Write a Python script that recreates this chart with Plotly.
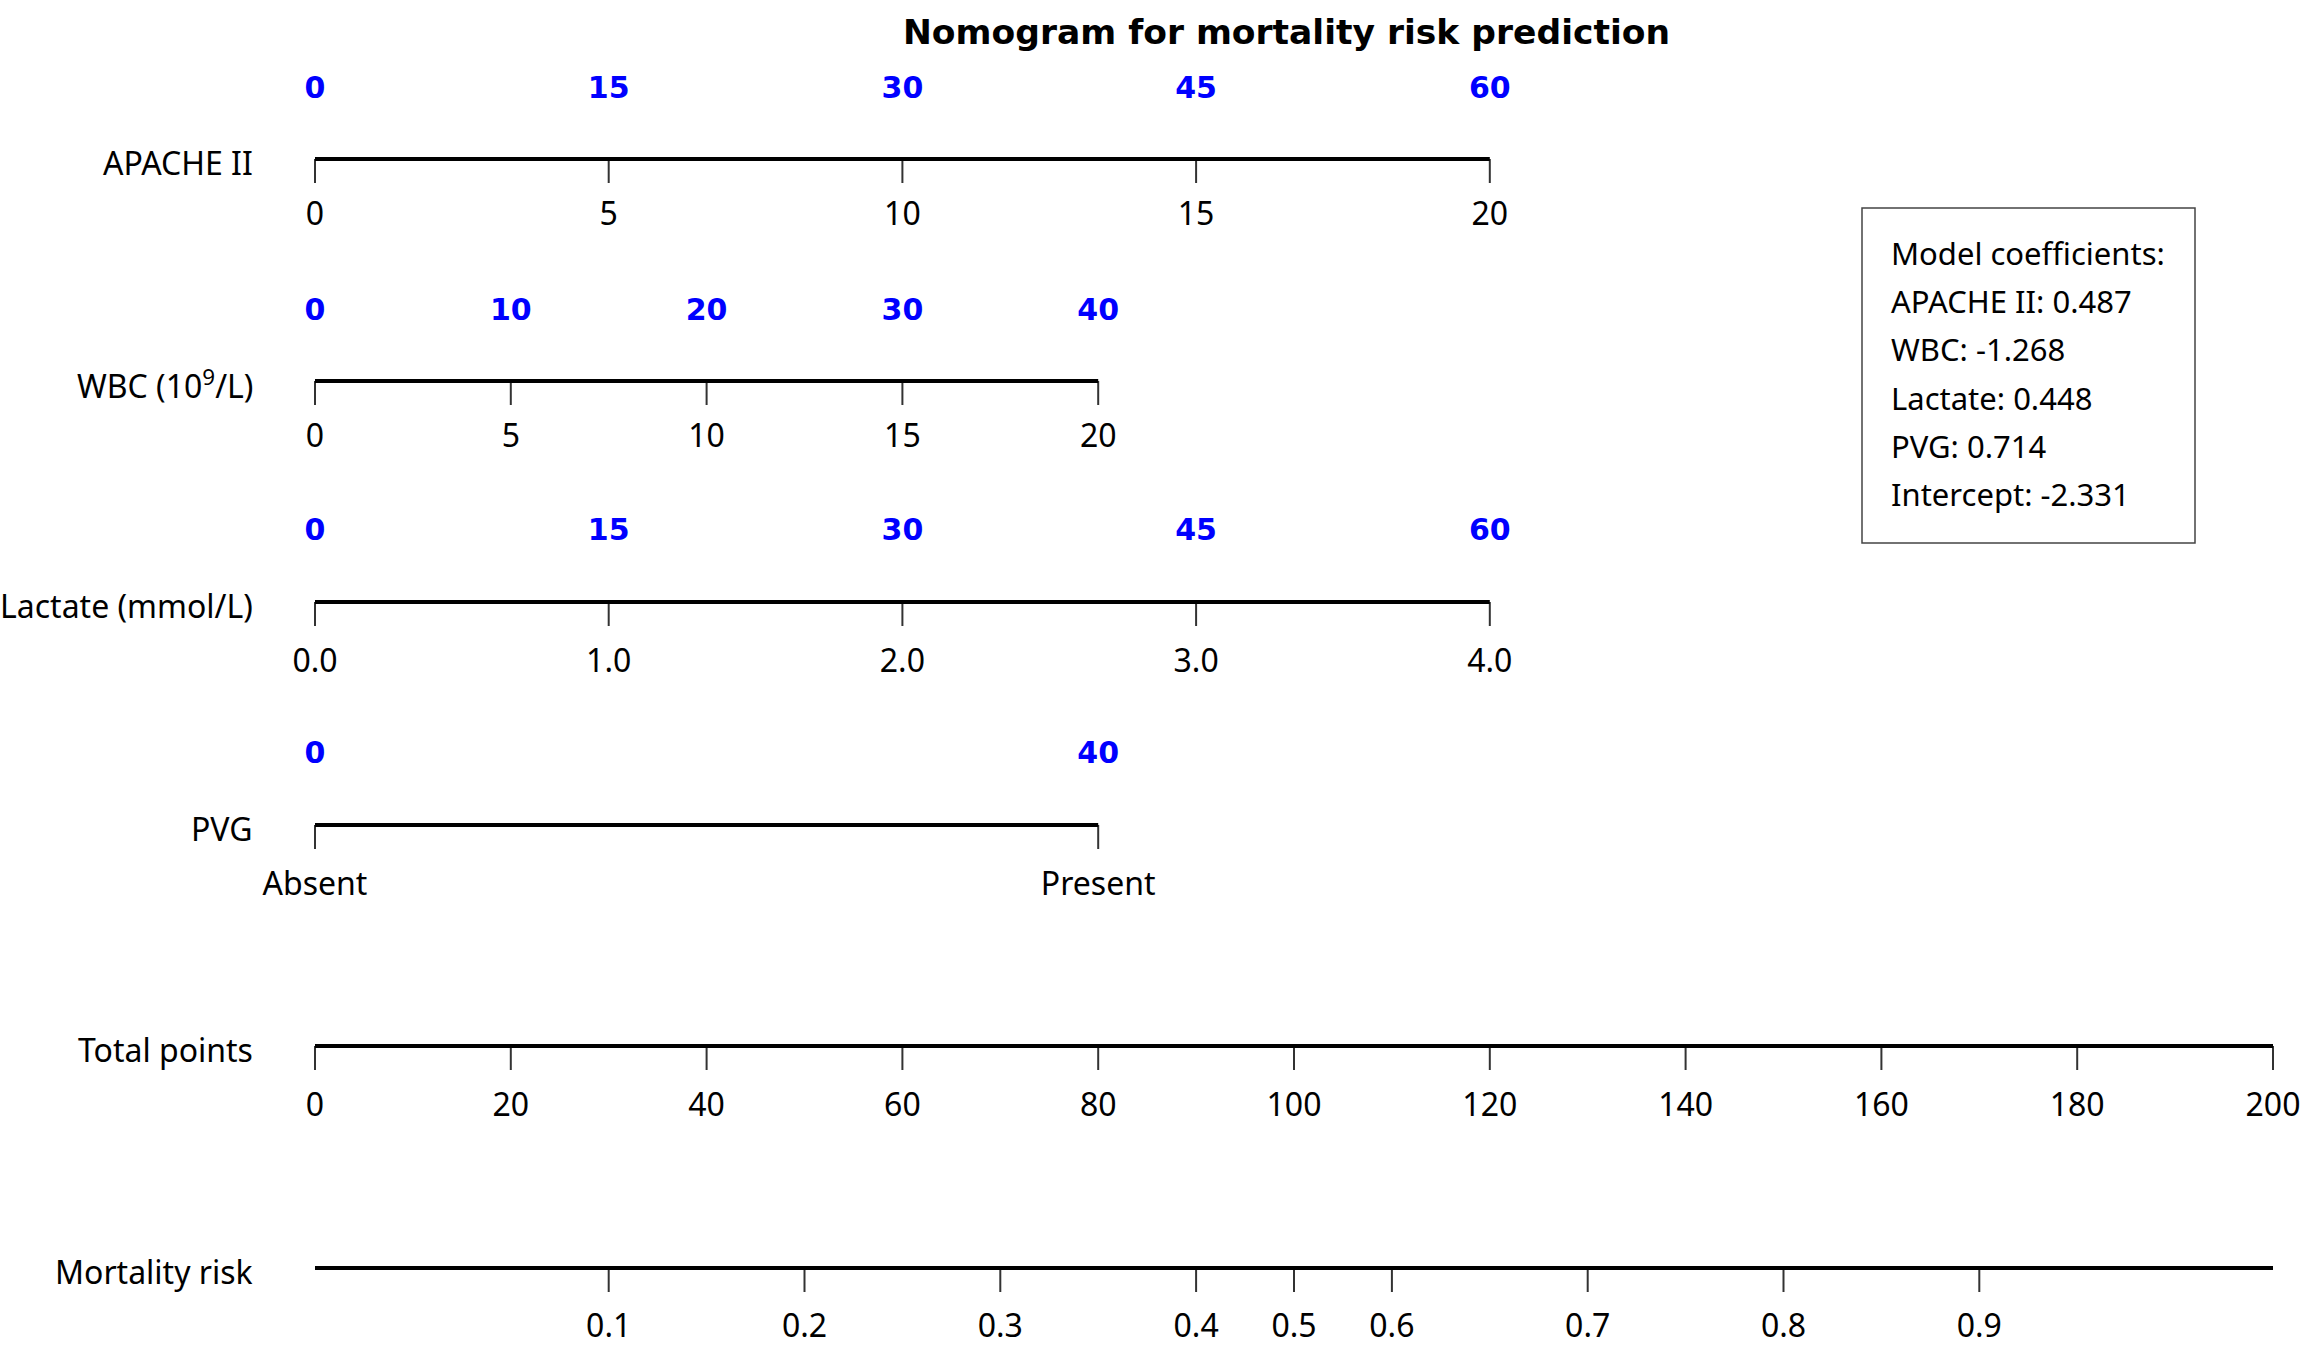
import plotly.graph_objects as go

# ---------------- data ----------------
apache_values = ["0", "5", "10", "15", "20"]
apache_points = [0, 15, 30, 45, 60]

wbc_values = ["0", "5", "10", "15", "20"]
wbc_points = [0, 10, 20, 30, 40]

lactate_values = ["0.0", "1.0", "2.0", "3.0", "4.0"]
lactate_points = [0, 15, 30, 45, 60]

pvg_values = ["Absent", "Present"]
pvg_points = [0, 40]

total_ticks = [0, 20, 40, 60, 80, 100, 120, 140, 160, 180, 200]

risk_labels = ["0.1", "0.2", "0.3", "0.4", "0.5", "0.6", "0.7", "0.8", "0.9"]
risk_total_points = [30, 50, 70, 90, 100, 110, 130, 150, 170]

coef_names = ["APACHE II", "WBC", "Lactate", "PVG", "Intercept"]
coef_values = ["0.487", "-1.268", "0.448", "0.714", "-2.331"]

row_labels = ["APACHE II", "WBC (10<sup>9</sup>/L)", "Lactate (mmol/L)", "PVG",
              "Total points", "Mortality risk"]

# ---------------- layout constants ----------------
W, H = 2302, 1356
X0_PX, X200_PX = 315, 2273          # pixel positions of total points 0 and 200
K = (X200_PX - X0_PX) / 200.0
POINT_SCALE = 2                     # variable points drawn at 2x on the total-points scale
row_y = [159, 381, 602, 825, 1046, 1268]
label_off = [58, 58, 62, 62, 62, 61]
blue_off = [-69, -69, -70, -70]
TICK_LEN = 24

BLUE = "#0000FF"
SANS = "Noto Sans"
BOLD = "DejaVu Sans"


def px(screen_x):
    return screen_x / W


fig = go.Figure()


def add_axis(y, positions, labels, loff, line_end=None):
    end = max(positions) if line_end is None else line_end
    tx, ty = [], []
    for p in positions:
        tx += [p, p, None]
        ty += [y, y + TICK_LEN, None]
    fig.add_trace(go.Scatter(x=tx, y=ty, mode="lines",
                             line=dict(color="#333333", width=2),
                             hoverinfo="skip", showlegend=False))
    fig.add_trace(go.Scatter(x=[0, end], y=[y, y], mode="lines",
                             line=dict(color="black", width=4),
                             hoverinfo="skip", showlegend=False))
    fig.add_trace(go.Scatter(x=positions, y=[y + loff] * len(positions),
                             mode="text", text=labels, textposition="middle center",
                             textfont=dict(family=SANS, size=32, color="black"),
                             hoverinfo="skip", showlegend=False))


def add_points(y, pts, boff):
    fig.add_trace(go.Scatter(x=[p * POINT_SCALE for p in pts], y=[y + boff] * len(pts),
                             mode="text", text=[str(p) for p in pts],
                             textposition="middle center",
                             textfont=dict(family=BOLD, size=30, color=BLUE, weight="bold"),
                             hoverinfo="skip", showlegend=False))


var_rows = [
    (apache_points, apache_values),
    (wbc_points, wbc_values),
    (lactate_points, lactate_values),
    (pvg_points, pvg_values),
]
for i, (pts, vals) in enumerate(var_rows):
    pos = [p * POINT_SCALE for p in pts]
    add_axis(row_y[i], pos, vals, label_off[i])
    add_points(row_y[i], pts, blue_off[i])

add_axis(row_y[4], total_ticks, [str(t) for t in total_ticks], label_off[4])
add_axis(row_y[5], risk_total_points, risk_labels, label_off[5], line_end=200)

annotations = []
for lbl, y in zip(row_labels, row_y):
    annotations.append(dict(xref="paper", yref="y", x=px(255), y=y + 3, text=lbl,
                            showarrow=False, xanchor="right", yanchor="middle",
                            font=dict(family=SANS, size=32, color="black")))

annotations.append(dict(xref="paper", yref="y", x=px(1286), y=32,
                        text="<b>Nomogram for mortality risk prediction</b>",
                        showarrow=False, xanchor="center", yanchor="middle",
                        font=dict(family=BOLD, size=34.5, color="black")))

box_lines = ["Model coefficients:"] + [f"{n}: {v}" for n, v in zip(coef_names, coef_values)]
for j, t in enumerate(box_lines):
    annotations.append(dict(xref="paper", yref="y", x=px(1889), y=253 + 48.2 * j, text=t,
                            showarrow=False, xanchor="left", yanchor="middle",
                            font=dict(family=SANS, size=31, color="black")))

shapes = [dict(type="rect", xref="paper", yref="y", x0=px(1862), x1=px(2195),
               y0=208, y1=543, line=dict(color="#444444", width=1.5))]

fig.update_layout(
    width=W, height=H,
    margin=dict(l=0, r=0, t=0, b=0),
    paper_bgcolor="white", plot_bgcolor="white",
    xaxis=dict(range=[-X0_PX / K, (W - X0_PX) / K], visible=False, fixedrange=True),
    yaxis=dict(range=[H, 0], visible=False, fixedrange=True),
    annotations=annotations, shapes=shapes, showlegend=False,
)

fig.write_html("out.html",
               config={"displayModeBar": False},
               post_script="document.body.style.margin='0';document.body.style.overflow='hidden';")
